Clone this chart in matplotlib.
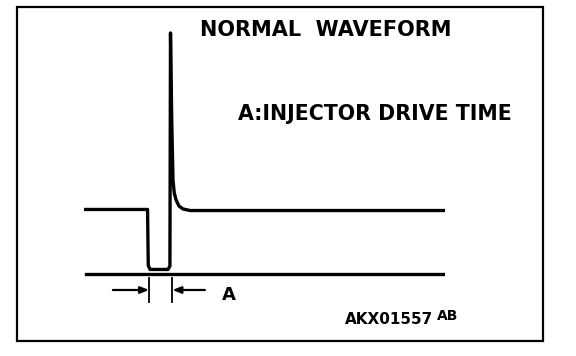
import matplotlib.pyplot as plt
from matplotlib.patches import Rectangle

# injector drive waveform (time in arbitrary units, voltage in V)
wave_t = [0.0, 17.6, 17.8, 18.3, 23.3, 23.8, 23.96, 24.3, 24.65, 25.0,
          25.5, 26.3, 27.4, 29.4, 100.0]
wave_v = [12.1, 12.1, 1.6, 0.85, 0.85, 1.5, 45.2, 28.9, 17.6, 15.2,
          13.9, 12.75, 12.2, 11.9, 11.9]

# ground reference line
gnd_t = [0.5, 100.0]
gnd_v = [0.0, 0.0]

# "A" = injector drive time markers
drive_on = 18.0
drive_off = 24.5
arrow_from_left = 8.0
arrow_from_right = 33.5
dim_v = -3.0

title = "NORMAL  WAVEFORM"
note = "A:INJECTOR DRIVE TIME"
dim_label = "A"
code_main = "AKX01557"
code_sub = "AB"

plt.rcParams['font.family'] = ['DejaVu Sans']

fig = plt.figure(figsize=(5.76, 3.56), dpi=100)
ax = fig.add_axes([84 / 576, 0.1255, 361 / 576, 0.7939])
ax.set_xlim(0, 100)
ax.set_ylim(-7, 46)
ax.axis('off')

ax.plot(wave_t, wave_v, color='black', lw=2.4, solid_joinstyle='round')
ax.plot(gnd_t, gnd_v, color='black', lw=2.4)

# dimension ticks
for t in (drive_on, drive_off):
    ax.plot([t, t], [dim_v + 2.2, dim_v - 2.2], color='black', lw=1.3,
            clip_on=False)
ax.annotate('', xy=(drive_on, dim_v), xytext=(arrow_from_left, dim_v),
            arrowprops=dict(arrowstyle='-|>,head_length=0.5,head_width=0.2',
                            color='black', lw=1.6, shrinkA=0, shrinkB=0))
ax.annotate('', xy=(drive_off, dim_v), xytext=(arrow_from_right, dim_v),
            arrowprops=dict(arrowstyle='-|>,head_length=0.5,head_width=0.2',
                            color='black', lw=1.6, shrinkA=0, shrinkB=0))
ax.text(40.2, -4.0, dim_label, ha='center', va='center', fontsize=13,
        fontweight='bold')

fig.text(200 / 576, 1 - 30.5 / 356, title, ha='left', va='center',
         fontsize=15, fontweight='bold')
fig.text(238 / 576, 1 - 113.5 / 356, note, ha='left', va='center',
         fontsize=14.8, fontweight='bold')
fig.text(345 / 576, 1 - 319 / 356, code_main, ha='left', va='center',
         fontsize=11, fontweight='heavy')
fig.text(437 / 576, 1 - 316.5 / 356, code_sub, ha='left', va='center',
         fontsize=10, fontweight='heavy')

fig.patches.append(Rectangle((17 / 576, 15 / 356), 526 / 576, 334 / 356,
                             transform=fig.transFigure, fill=False,
                             edgecolor='black', lw=1.6))

fig.savefig('out.png', dpi=100)
